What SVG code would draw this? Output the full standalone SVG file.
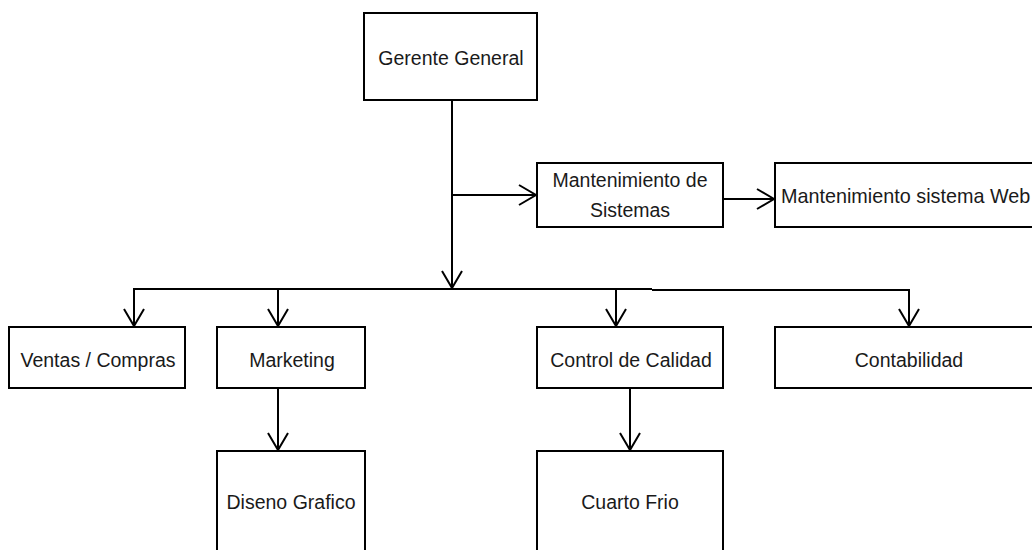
<svg xmlns="http://www.w3.org/2000/svg" width="1032" height="550" viewBox="0 0 1032 550">
<style>
.box{fill:#fff;stroke:#000;stroke-width:2}
.t{font-family:"Liberation Sans",Arial,sans-serif;font-size:19.5px;fill:#1a1a1a;text-anchor:middle}
.tl{text-anchor:start}
.c{fill:none;stroke:#000;stroke-width:2}
</style>
<defs>
<marker id="a" markerUnits="userSpaceOnUse" markerWidth="24" markerHeight="24" viewBox="-20 -12 22 24" refX="0" refY="0" orient="auto">
<path d="M-17,-10 L0,0 L-17,10" fill="none" stroke="#000" stroke-width="2"/>
</marker>
</defs>
<rect width="1032" height="550" fill="#fff"/>
<g id="connectors">
<path class="c" d="M452,100 V288" marker-end="url(#a)"/>
<path class="c" d="M452,195 H536" marker-end="url(#a)"/>
<path class="c" d="M723,199 H774" marker-end="url(#a)"/>
<path class="c" d="M133,289 H652 M652,290 H910"/>
<path class="c" d="M134,289 V326" marker-end="url(#a)"/>
<path class="c" d="M278,289 V326" marker-end="url(#a)"/>
<path class="c" d="M616,290 V326" marker-end="url(#a)"/>
<path class="c" d="M909,290 V326" marker-end="url(#a)"/>
<path class="c" d="M278,388 V450" marker-end="url(#a)"/>
<path class="c" d="M630,388 V450" marker-end="url(#a)"/>
</g>
<g id="gerente"><rect class="box" x="364" y="13" width="173" height="87"/><text class="t" x="451" y="65">Gerente General</text></g>
<g id="mant-sistemas"><rect class="box" x="537" y="163" width="186" height="64"/><text class="t" x="630" y="187">Mantenimiento de</text><text class="t" x="630" y="217">Sistemas</text></g>
<g id="mant-web"><rect class="box" x="775" y="163" width="270" height="64"/><text class="t tl" x="781" y="203" style="font-size:19.8px">Mantenimiento sistema Web</text></g>
<g id="ventas"><rect class="box" x="9" y="327" width="176" height="61"/><text class="t" x="98" y="367">Ventas / Compras</text></g>
<g id="marketing"><rect class="box" x="217" y="327" width="148" height="61"/><text class="t" x="292" y="367">Marketing</text></g>
<g id="control"><rect class="box" x="537" y="327" width="186" height="61"/><text class="t" x="631" y="367">Control de Calidad</text></g>
<g id="contabilidad"><rect class="box" x="775" y="327" width="270" height="61"/><text class="t" x="909" y="367">Contabilidad</text></g>
<g id="diseno"><rect class="box" x="217" y="451" width="148" height="110"/><text class="t" x="291" y="509">Diseno Grafico</text></g>
<g id="cuarto"><rect class="box" x="537" y="451" width="186" height="110"/><text class="t" x="630" y="509">Cuarto Frio</text></g>
</svg>
